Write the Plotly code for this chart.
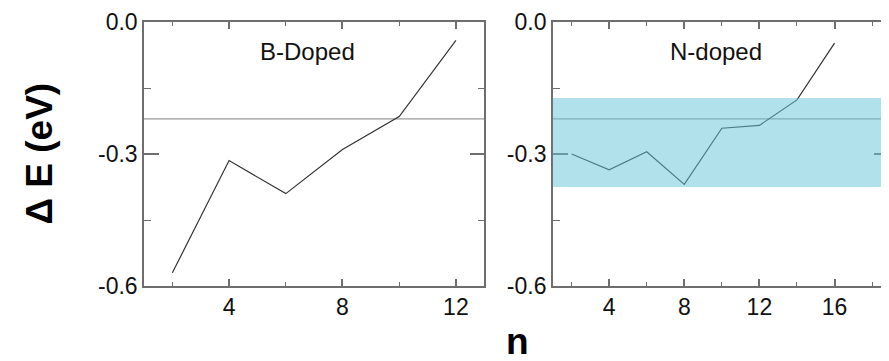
import plotly.graph_objects as go

# ---- data ----
b_n = [2, 4, 6, 8, 10, 12]
b_dE = [-0.57, -0.315, -0.39, -0.29, -0.215, -0.042]
n_n = [2, 4, 6, 8, 10, 12, 14, 16]
n_dE = [-0.30, -0.336, -0.295, -0.369, -0.2415, -0.235, -0.177, -0.048]
ref_level = -0.22
band_low, band_high = -0.375, -0.173
y_ticks = [0.0, -0.3, -0.6]
y_ticklabels = ["0.0", "-0.3", "-0.6"]
panel_titles = ["B-Doped", "N-doped"]

FONT = "Arial, Liberation Sans, Helvetica, sans-serif"
AX = "#6e6e6e"
OFF = 8  # page body margin offset
W, H = 889 - OFF, 361 - OFF
L, T = 143.5 - OFF, 22.3 - OFF
PB = 285.7 - OFF  # plot bottom in figure px
B = H - PB
PW = W - L
PH = PB - T

fig = go.Figure()
fig.add_trace(go.Scatter(x=b_n, y=b_dE, mode="lines", line=dict(color="#333333", width=1.2),
                         xaxis="x", yaxis="y", showlegend=False))
fig.add_trace(go.Scatter(x=n_n, y=n_dE, mode="lines", line=dict(color="#333333", width=1.2),
                         xaxis="x2", yaxis="y2", showlegend=False))

common_x = dict(showgrid=False, zeroline=False, showline=True, linecolor=AX, linewidth=1.5,
                mirror="allticks", ticks="inside", ticklen=7, tickcolor=AX, tickwidth=1.5,
                tickmode="linear", tick0=0, dtick=4,
                minor=dict(ticks="inside", ticklen=4, tickcolor=AX, tickwidth=1.2, dtick=2, tick0=0),
                tickfont=dict(family=FONT, size=23, color="#111"))
common_y = dict(showgrid=False, zeroline=False, showline=True, linecolor=AX, linewidth=1.5,
                mirror="allticks", ticks="inside", ticklen=15, tickcolor=AX, tickwidth=1.5,
                tickmode="array", tickvals=y_ticks, ticktext=y_ticklabels, range=[-0.6, 0.0],
                minor=dict(ticks="inside", ticklen=7, tickcolor=AX, tickwidth=1.2, dtick=0.15, tick0=0),
                tickfont=dict(family=FONT, size=23, color="#111"))

x1_end = (484 - OFF - L) / PW
x2_start = (552.6 - OFF - L) / PW

fig.update_layout(
    width=W, height=H,
    margin=dict(l=L, r=0, t=T, b=B, autoexpand=False),
    paper_bgcolor="white", plot_bgcolor="white",
    xaxis=dict(domain=[0, x1_end], range=[1, 13], anchor="y", **common_x),
    yaxis=dict(domain=[0, 1], anchor="x", **common_y),
    xaxis2=dict(domain=[x2_start, 1], range=[1, 18.9], anchor="y2", **common_x),
    yaxis2=dict(domain=[0, 1], anchor="x2", **common_y),
)

# reference level lines
for xr, yr in [("x", "y"), ("x2", "y2")]:
    fig.add_shape(type="line", xref=f"{xr} domain", yref=yr, x0=0, x1=1, y0=ref_level, y1=ref_level,
                  line=dict(color="#9a9a9a", width=1.2), layer="below")

# shaded band (semi-transparent, over the lines)
fig.add_shape(type="rect", xref="x2 domain", yref="y2", x0=0, x1=1, y0=band_low, y1=band_high,
              fillcolor="rgba(100,197,217,0.5)", line=dict(width=0), layer="above")

# panel titles
fig.add_annotation(text=panel_titles[0], x=6.76, y=-0.068, xref="x", yref="y", showarrow=False,
                   font=dict(family=FONT, size=24, color="#111"), xanchor="center", yanchor="middle")
fig.add_annotation(text=panel_titles[1], x=9.70, y=-0.068, xref="x2", yref="y2", showarrow=False,
                   font=dict(family=FONT, size=24, color="#111"), xanchor="center", yanchor="middle")

# axis titles
fig.add_annotation(text="<b>\u0394 E (eV)</b>", x=(38 - OFF - L) / PW, y=(PB - (154 - OFF)) / PH,
                   xref="paper", yref="paper",
                   showarrow=False, textangle=-90, font=dict(family=FONT, size=37, color="#000"),
                   xanchor="center", yanchor="middle")
fig.add_annotation(text="<b>n</b>", x=(517.5 - OFF - L) / PW, y=(PB - (319 - OFF)) / PH,
                   xref="paper", yref="paper",
                   showarrow=False, font=dict(family=FONT, size=37, color="#000"),
                   xanchor="center", yanchor="top")

fig.write_html("out.html")
